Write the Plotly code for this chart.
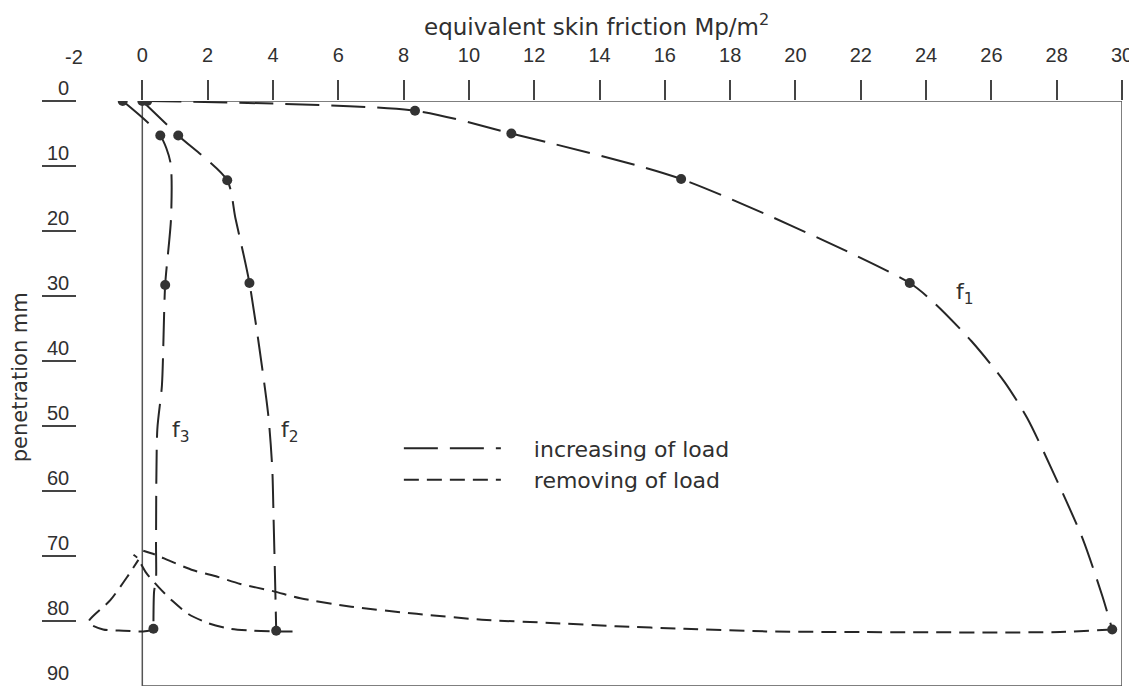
import plotly.graph_objects as go

# ---------------- data ----------------
# measured points (dots)
f1_pts_x = [0.15, 8.35, 11.3, 16.5, 23.5, 29.7]
f1_pts_y = [0.0, 1.5, 5.0, 12.0, 28.0, 81.3]
f2_pts_x = [0.0, 1.1, 2.6, 3.28, 4.1]
f2_pts_y = [0.0, 5.3, 12.2, 28.0, 81.5]
f3_pts_x = [-0.6, 0.55, 0.7, 0.34]
f3_pts_y = [0.0, 5.3, 28.3, 81.2]

# loading curves (increasing of load)
f1_load_x = [0.15, 8.35, 11.3, 16.5, 23.5, 24.3, 25.4, 26.4, 27.1, 27.9, 28.8, 29.4, 29.7]
f1_load_y = [0.0, 1.5, 5.0, 12.0, 28.0, 31.3, 37.0, 43.2, 48.8, 57.2, 67.4, 76.2, 81.3]
f2_load_x = [0.0, 1.1, 2.6, 2.85, 3.28, 3.85, 3.98, 4.02, 4.07, 4.1]
f2_load_y = [0.0, 5.3, 12.2, 18.0, 28.0, 48.0, 56.6, 64.3, 74.6, 81.5]
f3_load_x = [-0.6, 0.55, 0.86, 0.88, 0.7, 0.6, 0.46, 0.42, 0.42, 0.36, 0.34]
f3_load_y = [0.0, 5.3, 9.4, 18.0, 28.3, 43.8, 50.5, 68.0, 73.5, 75.5, 81.2]

# unloading curves (removing of load)
f1_unl_x = [29.7, 28.1, 22.0, 19.1, 16.6, 14.5, 12.5, 10.4, 8.4, 6.4, 4.84, 4.0, 3.0, 2.3, 1.56, 0.86, 0.4, 0.03]
f1_unl_y = [81.3, 81.7, 81.7, 81.6, 81.2, 80.8, 80.3, 79.8, 78.9, 77.8, 76.5, 75.4, 74.3, 73.2, 72.2, 70.8, 69.8, 69.2]
f2_unl_x = [4.6, 4.1, 3.4, 2.7, 2.0, 1.4, 0.92, 0.52, 0.12, -0.15, -0.27]
f2_unl_y = [81.6, 81.6, 81.5, 81.2, 80.3, 78.9, 76.9, 74.9, 72.6, 70.3, 69.8]
f3_unl_x = [0.34, 0.03, -0.58, -1.2, -1.65, -0.98, -0.46, -0.12]
f3_unl_y = [81.4, 81.6, 81.5, 81.3, 80.2, 76.8, 73.2, 70.6]

x_ticks = list(range(0, 31, 2))
y_ticks = [0, 10, 20, 30, 40, 50, 60, 70, 80]
y_labels = ["0", "10", "20", "30", "40", "50", "60", "70", "80", "90"]
y_label_vals = [0, 10, 20, 30, 40, 50, 60, 70, 80, 90]

curve_labels = [("f", "1", 24.85, 29.6), ("f", "2", 4.2, 50.8), ("f", "3", 0.85, 50.8)]

# ---------------- styling ----------------
INK = "#262626"
TXT = "#303030"
FRAME = "#555555"
LONG = "34px,12px"
SHORT = "15px,8px"
TXT_FONT = "DejaVu Sans"
NUM_FONT = "Liberation Sans"
NB = "\u00a0"

fig = go.Figure()

def curve(x, y, dash, name=None, show=False, group=None):
    fig.add_trace(go.Scatter(
        x=x, y=y, mode="lines", name=name, showlegend=show,
        legendgroup=group,
        line=dict(color=INK, width=2, dash=dash, shape="spline", smoothing=0.7),
        hoverinfo="skip"))

curve(f1_load_x, f1_load_y, LONG, NB * 4 + "increasing of load", True, "a")
curve(f2_load_x, f2_load_y, LONG)
curve(f3_load_x, f3_load_y, LONG)
curve(f1_unl_x, f1_unl_y, SHORT, NB * 4 + "removing of load", True, "b")
curve(f2_unl_x, f2_unl_y, SHORT)
curve(f3_unl_x, f3_unl_y, SHORT)

for px_, py_ in [(f1_pts_x, f1_pts_y), (f2_pts_x, f2_pts_y), (f3_pts_x, f3_pts_y)]:
    fig.add_trace(go.Scatter(x=px_, y=py_, mode="markers", showlegend=False,
                             marker=dict(size=10, color="#333333"), hoverinfo="skip"))

# frame
fig.add_shape(type="rect", x0=0, x1=30, y0=0, y1=90, xref="x", yref="y",
              line=dict(color=FRAME, width=1.5), layer="below")

# y labels (above their underline ticks)
for lab, v in zip(y_labels, y_label_vals):
    fig.add_annotation(x=0, xref="paper", y=v, yref="y", text=lab, showarrow=False,
                       xanchor="right", yanchor="bottom", xshift=-6, yshift=0,
                       font=dict(family=NUM_FONT, size=20, color=TXT))

# "-2" label without tick
fig.add_annotation(x=-2, xref="x", y=1.075, yref="paper", text="-2", showarrow=False,
                   xanchor="center", yanchor="middle", xshift=-3,
                   font=dict(family=NUM_FONT, size=20, color=TXT))

# axis titles
fig.add_annotation(x=0.4976, xref="paper", y=1.13, yref="paper",
                   text="equivalent skin friction Mp/m<sup>2</sup>", showarrow=False,
                   xanchor="center", yanchor="middle",
                   font=dict(family=TXT_FONT, size=23, color=TXT))
fig.add_annotation(x=(20 - 77) / 1045, xref="paper", y=42.5, yref="y",
                   text="penetration mm", showarrow=False, textangle=-90,
                   xanchor="center", yanchor="middle",
                   font=dict(family=TXT_FONT, size=21, color=TXT))

for f, sub, lx, ly in curve_labels:
    fig.add_annotation(x=lx, y=ly, xref="x", yref="y", text=f"{f}<sub>{sub}</sub>",
                       showarrow=False, xanchor="left", yanchor="middle",
                       font=dict(family=TXT_FONT, size=22, color=TXT))

# page body has an 8px margin: size the figure so the plot area lands where the reference has it
fig.update_layout(
    width=1129, height=680,
    margin=dict(l=69, r=15, t=93, b=2),
    paper_bgcolor="white", plot_bgcolor="white",
    showlegend=True,
    legend=dict(x=0.308, y=0.442, xanchor="left", yanchor="top",
                bgcolor="rgba(0,0,0,0)", borderwidth=0, itemwidth=97,
                tracegroupgap=0,
                font=dict(family=TXT_FONT, size=22, color=TXT)),
    xaxis=dict(range=[-2, 30], side="top", tickvals=x_ticks,
               ticktext=[str(t) for t in x_ticks],
               ticks="outside", ticklen=20, tickwidth=1.5, tickcolor="#444",
               ticklabelstandoff=10,
               tickfont=dict(family=NUM_FONT, size=20, color=TXT),
               showgrid=False, zeroline=False, showline=False),
    yaxis=dict(range=[90, 0], tickvals=y_ticks, ticks="outside", ticklen=34,
               tickwidth=1.5, tickcolor="#444", showticklabels=False,
               showgrid=False, zeroline=False, showline=False),
)

fig.write_html("out.html")
